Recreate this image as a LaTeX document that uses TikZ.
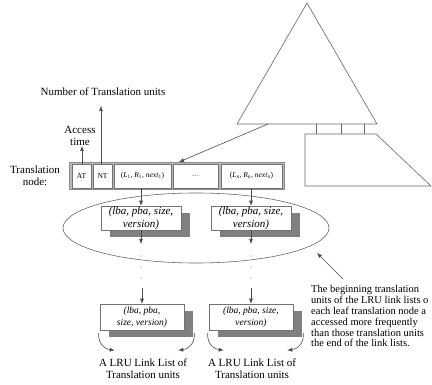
\documentclass[tikz,border=0pt]{standalone}
\usepackage{fontspec}
\setmainfont{Liberation Serif}
\usetikzlibrary{arrows.meta,calc,shadows}

\begin{document}
\begin{tikzpicture}[x=1pt,y=-1pt,
  line/.style={draw=black!60, line width=0.6pt},
  arr/.style={draw=black!70, line width=0.6pt, -{Latex[length=5pt,width=4pt]}},
  lbl/.style={font=\fontsize{11}{12}\selectfont, align=center, inner sep=0pt},
  frame/.style={draw=black!45, fill=black!28, line width=0.8pt, inner sep=0pt},
  cell/.style={draw=black!55, fill=white, line width=0.5pt, inner sep=0pt,
    minimum height=24pt, font=\fontsize{7.5}{9}\selectfont},
  shadowbox/.style={draw=black!55, fill=white, line width=0.5pt, align=center,
    inner sep=0pt, drop shadow={shadow xshift=9pt, shadow yshift=-7pt,
    opacity=1, fill=black!50, draw=none}},
  upbox/.style={shadowbox, minimum width=80pt, minimum height=24pt,
    font=\fontsize{11}{13}\selectfont\itshape},
  lowbox/.style={shadowbox, minimum width=84pt, minimum height=26pt,
    font=\fontsize{9.5}{12}\selectfont\itshape},
  dot/.style={fill=black!55, circle, inner sep=0pt, minimum size=1.4pt}]

\useasboundingbox (0,0) rectangle (432,385);

% tree of translation nodes
\coordinate (apex) at (307,3);
\coordinate (bl) at (237,124);
\coordinate (br) at (377,124);
\draw[line] (apex) -- (bl) -- (br) -- cycle;
\draw[line] (305,134) -- (376,134) -- (431,186) -- (305,186) -- cycle;
\foreach \x in {316,341,364} \draw[line] (\x,124) -- (\x,134);

% translation node record
\node[lbl] (tnlabel) at (35,175.5) {Translation\\node:};
\node[frame, minimum width=215pt, minimum height=27pt] (tn) at (176.5,175.5) {};
\node[cell, minimum width=19pt] (at) at (81.5,176) {AT};
\node[cell, minimum width=19pt] (nt) at (102.5,176) {NT};
\node[cell, minimum width=57pt] (l1) at (142.5,176)
  {(\textit{L}\textsubscript{1}, \textit{R}\textsubscript{1}, \textit{next}\textsubscript{1})};
\node[cell, minimum width=45pt] (mid) at (195.5,176) {\dots};
\node[cell, minimum width=61pt] (ln) at (251.5,176)
  {(\textit{L}\textsubscript{\textit{n}}, \textit{R}\textsubscript{\textit{n}}, \textit{next}\textsubscript{\textit{n}})};

\coordinate (treefoot) at (268,124);
\coordinate (tntip) at (179,162);
\draw[arr] (treefoot) -- (tntip);

% field labels
\node[lbl] (access) at (80,135.5) {Access\\time};
\node[lbl] (count) at (103,92) {Number of Translation units};
\coordinate (attip) at (82,146);
\coordinate (nttip) at (101,106);
\draw[arr] (at.north -| attip) -- (attip);
\draw[arr] (nt.north -| nttip) -- (nttip);

% group of first translation units
\draw[line] (196,228) ellipse [x radius=133, y radius=35];
\node[upbox] (u1) at (141,218) {(lba, pba, size,\\version)};
\node[upbox] (u2) at (251,218) {(lba, pba, size,\\version)};
\draw[arr] (l1.south -| u1.north) -- (u1.north);
\draw[arr] (ln.south -| u2.north) -- (u2.north);

% links down the lists
\foreach \b/\x in {1/141,2/251} {
  \coordinate (down\b) at (\x,244);
  \draw[arr] (u\b.south) -- (down\b);
  \node[dot] at (\x,256) {};
  \node[dot] at (\x,267) {};
  \node[dot] at (\x,278) {};
  \coordinate (from\b) at (\x,288);
}

% last translation units
\node[lowbox] (d1) at (142,317) {(lba, pba,\\size, version)};
\node[lowbox] (d2) at (251,317) {(lba, pba, size,\\version)};
\draw[arr] (from1 -| d1.north) -- (d1.north);
\draw[arr] (from2 -| d2.north) -- (d2.north);

% list ends
\foreach \b in {1,2} {
  \coordinate (ls\b) at ($(d\b.south west)+(-1,3)$);
  \coordinate (le\b) at ($(d\b.south west)+(15,20)$);
  \coordinate (rs\b) at ($(d\b.south east)+(10,3)$);
  \coordinate (re\b) at ($(d\b.south east)+(-6,20)$);
  \draw[arr] (ls\b) .. controls ($(ls\b)+(-1,10)$) and ($(le\b)+(-10,-1)$) .. (le\b);
  \draw[arr] (rs\b) .. controls ($(rs\b)+(1,10)$) and ($(re\b)+(10,-1)$) .. (re\b);
}

\node[lbl] (list1) at (143,369) {A LRU Link List of\\Translation units};
\node[lbl] (list2) at (252,369) {A LRU Link List of\\Translation units};

% note on access frequency
\node[anchor=north west, inner sep=0pt, align=left,
  font=\fontsize{10.5}{10.8}\selectfont] (note) at (311,285.5)
  {The beginning translation\\units of the LRU link lists o\\each leaf translation node a\\accessed more frequently\\than those translation units\\the end of the link lists.};
\coordinate (notestart) at (343,279);
\coordinate (notetip) at (317,253);
\draw[arr] (notestart) -- (notetip);

\end{tikzpicture}
\end{document}
